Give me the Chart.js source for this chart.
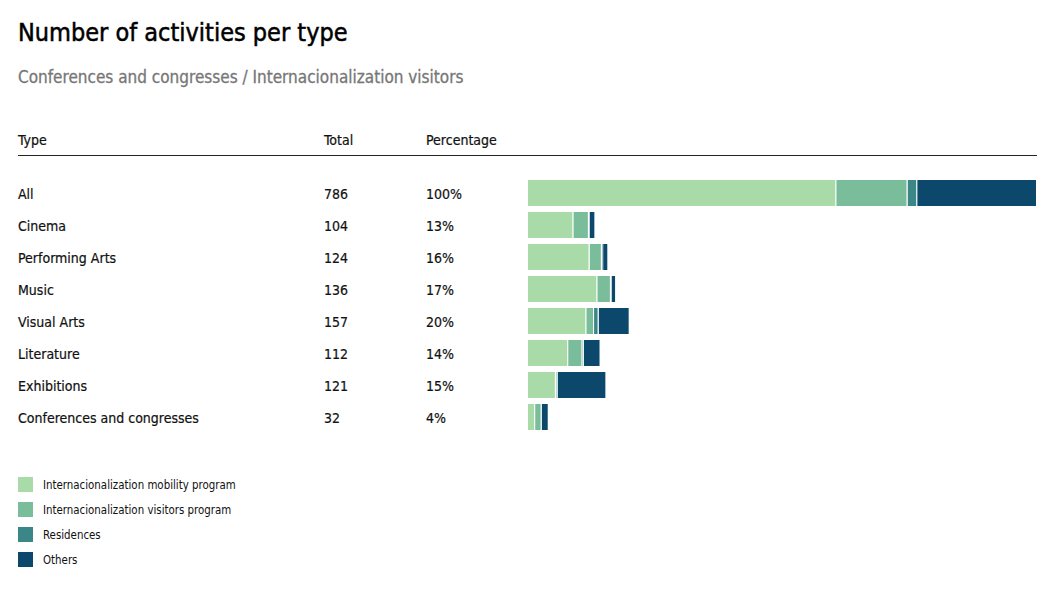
<!DOCTYPE html>
<html>
<head>
<meta charset="utf-8">
<script src="https://cdn.jsdelivr.net/npm/chart.js@4/dist/chart.umd.min.js"></script>
<style>
  body { margin: 0; background: #fff; font-family: "DejaVu Sans Condensed", "Liberation Sans Narrow", sans-serif; color: #111; }
  #title { position: absolute; left: 18px; top: 18px; font-size: 25px; font-weight: normal; margin: 0; -webkit-text-stroke: 0.5px #000; color: #000; }
  #subtitle { position: absolute; left: 18px; top: 67px; font-size: 17px; color: #777; -webkit-text-stroke: 0.3px #777; }
  .cell { position: absolute; font-size: 14px; line-height: 16px; white-space: nowrap; -webkit-text-stroke: 0.2px #111; }
  #rule { position: absolute; left: 18px; top: 155px; width: 1019px; height: 1px; background: #222; }
  #chartBox { position: absolute; left: 528px; top: 177px; width: 509px; height: 256px; }
  .legend { position: absolute; left: 18px; font-size: 11.4px; }
  .legend span.sw { position: absolute; left: 0; top: 0; width: 15px; height: 15px; }
  .legend span.tx { position: absolute; left: 25px; top: 0; line-height: 16px; white-space: nowrap; }
</style>
</head>
<body>
<h1 id="title">Number of activities per type</h1>
<div id="subtitle">Conferences and congresses / Internacionalization visitors</div>
<div id="table"></div>
<div id="rule"></div>
<div id="chartBox"><canvas id="typeChart"></canvas></div>
<div id="legend"></div>
<script>
const categories = ['All', 'Cinema', 'Performing Arts', 'Music', 'Visual Arts', 'Literature', 'Exhibitions', 'Conferences and congresses'];
const totals = [786, 104, 124, 136, 157, 112, 121, 32];
const percentages = ['100%', '13%', '16%', '17%', '20%', '14%', '15%', '4%'];

const mobility = [476, 70, 95, 107, 90, 62, 43, 11];
const visitors = [110, 24, 19, 21, 12, 22, 2, 10];
const residences = [15, 1, 2, 1, 7, 2, 1, 0];
const others = [185, 9, 8, 7, 48, 26, 75, 11];

const seriesNames = ['Internacionalization mobility program', 'Internacionalization visitors program', 'Residences', 'Others'];
const seriesColors = ['#a8dba8', '#79bd9a', '#3b8686', '#0b486b'];

// table on the left
const table = document.getElementById('table');
function addCell(text, x, y) {
  const d = document.createElement('div');
  d.className = 'cell';
  d.style.left = x + 'px';
  d.style.top = y + 'px';
  d.textContent = text;
  table.appendChild(d);
}
addCell('Type', 18, 132);
addCell('Total', 324, 132);
addCell('Percentage', 426, 132);
categories.forEach((c, i) => {
  const y = 186 + i * 32;
  addCell(c, 18, y);
  addCell(totals[i], 324, y);
  addCell(percentages[i], 426, y);
});

// legend
const legend = document.getElementById('legend');
seriesNames.forEach((name, i) => {
  const row = document.createElement('div');
  row.className = 'legend';
  row.style.top = (477 + i * 25) + 'px';
  row.innerHTML = '<span class="sw" style="background:' + seriesColors[i] + '"></span><span class="tx"></span>';
  row.querySelector('.tx').textContent = name;
  legend.appendChild(row);
});

const values = [mobility, visitors, residences, others];
new Chart(document.getElementById('typeChart'), {
  type: 'bar',
  data: {
    labels: categories,
    datasets: seriesNames.map((name, i) => ({
      label: name,
      data: values[i],
      backgroundColor: seriesColors[i],
      borderColor: '#ffffff',
      borderWidth: 1,
      barPercentage: 0.875,
      categoryPercentage: 1
    }))
  },
  options: {
    indexAxis: 'y',
    responsive: true,
    maintainAspectRatio: false,
    animation: false,
    layout: { padding: 0 },
    plugins: { legend: { display: false }, tooltip: { enabled: false } },
    scales: {
      x: { stacked: true, display: false, min: 0, max: totals[0] },
      y: { stacked: true, display: false }
    }
  }
});
</script>
</body>
</html>
